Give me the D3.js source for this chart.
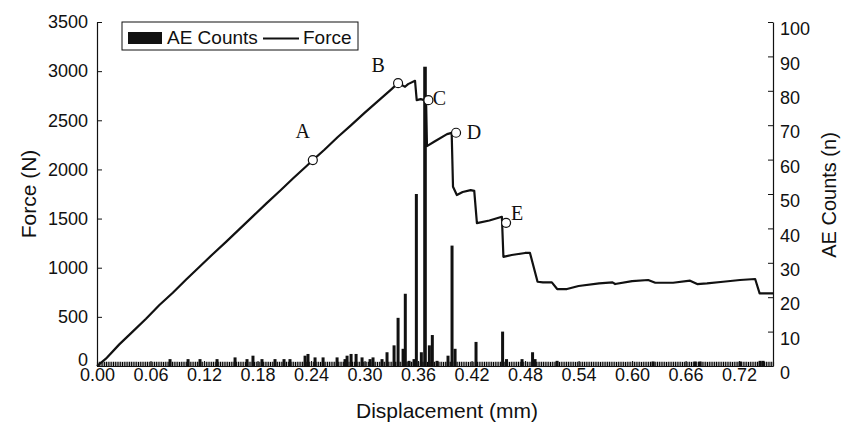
<!DOCTYPE html>
<html>
<head>
<meta charset="utf-8">
<script src="https://cdn.jsdelivr.net/npm/d3@7"></script>
<style>
  body { margin: 0; background: #fff; }
  text { font-family: "Liberation Sans", Arial, sans-serif; fill: #111; }
</style>
</head>
<body>
<div id="chart"></div>
<script>
// chart values
var forceX = [0, 0.010, 0.025, 0.040, 0.055, 0.070, 0.085, 0.100, 0.115, 0.130, 0.145, 0.160, 0.175, 0.190,
  0.205, 0.220, 0.235, 0.242, 0.255, 0.270, 0.285, 0.300, 0.315, 0.330, 0.3376, 0.3454, 0.3488, 0.3566,
  0.3585, 0.3630, 0.3690, 0.3700, 0.3780, 0.3925, 0.3977, 0.3992, 0.4035, 0.4100, 0.4190, 0.4230, 0.4260,
  0.4400, 0.4540, 0.4557, 0.4650, 0.4800, 0.4855, 0.4940, 0.5000, 0.5100, 0.5160, 0.5270, 0.5400, 0.5630,
  0.5780, 0.5810, 0.6000, 0.6180, 0.6260, 0.6460, 0.6650, 0.6730, 0.6840, 0.7020, 0.7210, 0.7380, 0.7430, 0.7580]
var forceN = [0, 75, 220, 350, 480, 620, 745, 880, 1010, 1140, 1265, 1395, 1525, 1655,
  1780, 1910, 2035, 2095, 2200, 2330, 2450, 2575, 2695, 2815, 2878, 2841, 2868, 2902,
  2705, 2715, 2700, 2237, 2281, 2359, 2372, 1823, 1739, 1770, 1790, 1782, 1454,
  1480, 1518, 1111, 1129, 1150, 1150, 857, 851, 851, 783, 783, 814, 841,
  851, 834, 864, 875, 847, 847, 868, 834, 841, 857, 875, 885, 739, 739]

var aeX = [0.0819, 0.1021, 0.1155, 0.1346, 0.1548, 0.1682, 0.1749, 0.1850, 0.1996, 0.2097, 0.2164,
  0.2333, 0.2366, 0.2445, 0.2535, 0.2692, 0.2781, 0.2804, 0.2849, 0.2905, 0.2972, 0.3062, 0.3095,
  0.3196, 0.3252, 0.3331, 0.3376, 0.3432, 0.3457, 0.3499, 0.3555, 0.3581, 0.3637, 0.3678, 0.3727,
  0.3760, 0.3813, 0.3936, 0.3981, 0.4015, 0.4250, 0.4548, 0.4592, 0.4766, 0.4884, 0.4912, 0.5159,
  0.6235, 0.6706, 0.6762, 0.7211, 0.7435, 0.7469]
var aeCount = [2, 2, 2, 2, 2.5, 2, 3, 2, 2, 2, 2,
  3, 3.5, 2.5, 2.5, 2.5, 2, 3, 3.5, 3.5, 2.5, 2, 2.5,
  2, 4, 6, 14, 5, 21, 1.5, 2, 50, 4, 87, 6,
  9, 1.5, 3, 35, 5, 7, 10, 2, 2, 4, 2, 1.5,
  1.3, 1.3, 1.3, 1.3, 1.5, 1.5]

var markerNames = ['A', 'B', 'C', 'D', 'E']
var markerX = [0.2420, 0.3376, 0.3716, 0.4026, 0.4587]
var markerN = [2095, 2878, 2705, 2373, 1457]

var dispTicks = [0, 0.06, 0.12, 0.18, 0.24, 0.30, 0.36, 0.42, 0.48, 0.54, 0.60, 0.66, 0.72]
var forceTicks = [0, 500, 1000, 1500, 2000, 2500, 3000, 3500]
var countTicks = [0, 10, 20, 30, 40, 50, 60, 70, 80, 90, 100]

var width = 841
var height = 422
var margin = { top: 22, right: 68, bottom: 56, left: 97 }
var w = width - margin.left - margin.right
var h = height - margin.top - margin.bottom

var svg = d3.select('#chart').append('svg')
  .attr('width', width)
  .attr('height', height)
var g = svg.append('g')
  .attr('transform', 'translate(' + margin.left + ',' + margin.top + ')')

var x = d3.scaleLinear().domain([0, 0.758]).range([0, w])
var yF = d3.scaleLinear().domain([0, 3500]).range([h, 0])
var yC = d3.scaleLinear().domain([0, 100]).range([h, 0])

// the dense comb of single counts along the bottom
g.append('g')
  .attr('transform', 'translate(0,' + h + ')')
  .call(d3.axisBottom(x).tickValues(x.ticks(300)).tickSize(-(h - yC(1.2))).tickFormat(''))
  .call(function (s) {
    s.select('.domain').remove()
    s.selectAll('line').attr('stroke', '#000').attr('stroke-width', 1.1)
  })

// force curve
var line = d3.line()
  .x(function (d, i) { return x(forceX[i]) })
  .y(function (d, i) { return yF(forceN[i]) })
g.append('path')
  .attr('d', line(forceX))
  .attr('fill', 'none')
  .attr('stroke', '#111')
  .attr('stroke-width', 2.2)
  .attr('stroke-linejoin', 'round')

// AE count bars
g.selectAll('rect.ae')
  .data(aeX)
  .enter()
  .append('rect')
  .attr('class', 'ae')
  .attr('x', function (d, i) { return x(d) - (aeCount[i] > 60 ? 1.8 : 1.5) })
  .attr('width', function (d, i) { return aeCount[i] > 60 ? 3.6 : 3 })
  .attr('y', function (d, i) { return yC(aeCount[i]) })
  .attr('height', function (d, i) { return h - yC(aeCount[i]) })
  .attr('fill', '#111')

// markers A..E
var labelOffset = { A: [-10, -22], B: [-20, -11], C: [11, 5], D: [18, 6], E: [11, -3] }
g.selectAll('circle.mk')
  .data(markerNames)
  .enter()
  .append('circle')
  .attr('class', 'mk')
  .attr('cx', function (d, i) { return x(markerX[i]) })
  .attr('cy', function (d, i) { return yF(markerN[i]) })
  .attr('r', 4.5)
  .attr('fill', '#fff')
  .attr('stroke', '#111')
  .attr('stroke-width', 1.2)
g.selectAll('text.mk')
  .data(markerNames)
  .enter()
  .append('text')
  .attr('class', 'mk')
  .attr('x', function (d, i) { return x(markerX[i]) + labelOffset[d][0] })
  .attr('y', function (d, i) { return yF(markerN[i]) + labelOffset[d][1] })
  .attr('text-anchor', 'middle')
  .style('font-family', '"Liberation Serif", "Times New Roman", serif')
  .style('font-size', '20px')
  .text(function (d) { return d })

// axes
function styleAxis(s) {
  s.select('.domain').attr('stroke', '#111').attr('stroke-width', 1.2)
  s.selectAll('.tick line').attr('stroke', '#111')
  s.selectAll('.tick text').style('font-size', '18px').attr('fill', '#111')
}

g.append('g')
  .attr('transform', 'translate(0,' + h + ')')
  .call(d3.axisBottom(x).tickValues(dispTicks).tickSizeInner(-5).tickSizeOuter(0).tickPadding(2)
    .tickFormat(d3.format('.2f')))
  .call(styleAxis)

g.append('g')
  .call(d3.axisLeft(yF).tickValues(forceTicks).tickSizeInner(-5).tickSizeOuter(0).tickPadding(9)
    .tickFormat(d3.format('d')))
  .call(styleAxis)
  .call(function (s) { s.selectAll('.tick text').filter(function (d) { return d === 0 }).attr('y', -6) })

g.append('g')
  .attr('transform', 'translate(' + w + ',0)')
  .call(d3.axisRight(yC).tickValues(countTicks).tickSizeInner(-5).tickSizeOuter(0).tickPadding(7))
  .call(styleAxis)
  .call(function (s) { s.selectAll('.tick text').attr('y', 7) })

// axis titles
svg.append('text')
  .attr('x', 447)
  .attr('y', 418)
  .attr('text-anchor', 'middle')
  .style('font-size', '21px')
  .text('Displacement (mm)')

svg.append('text')
  .attr('transform', 'translate(36,194) rotate(-90)')
  .attr('text-anchor', 'middle')
  .style('font-size', '21px')
  .text('Force (N)')

svg.append('text')
  .attr('transform', 'translate(836,195) rotate(-90)')
  .attr('text-anchor', 'middle')
  .style('font-size', '20px')
  .text('AE Counts (n)')

// legend
var legend = svg.append('g')
legend.append('rect')
  .attr('x', 122).attr('y', 22).attr('width', 236).attr('height', 28)
  .attr('fill', '#fff').attr('stroke', '#111').attr('stroke-width', 1)
legend.append('rect')
  .attr('x', 128).attr('y', 32).attr('width', 34).attr('height', 12)
  .attr('fill', '#111')
legend.append('text')
  .attr('x', 167).attr('y', 44)
  .style('font-size', '19px')
  .text('AE Counts')
legend.append('line')
  .attr('x1', 263).attr('x2', 299).attr('y1', 38.5).attr('y2', 38.5)
  .attr('stroke', '#111').attr('stroke-width', 2)
legend.append('text')
  .attr('x', 303).attr('y', 44)
  .style('font-size', '19px')
  .text('Force')
</script>
</body>
</html>
